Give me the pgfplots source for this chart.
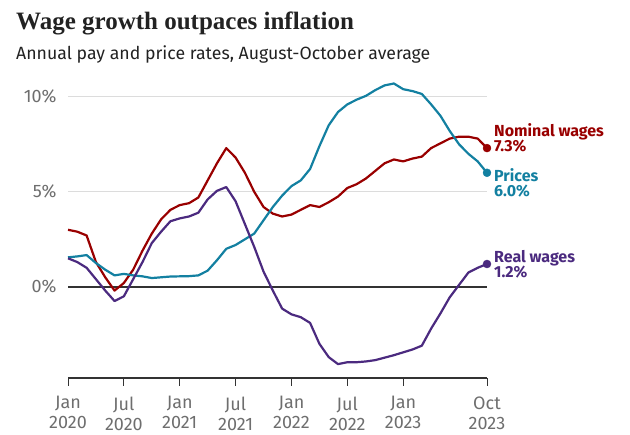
\documentclass[border=0pt]{standalone}
\usepackage{fontspec}
\setmainfont{Fira Sans}
\newfontfamily\titlefont{Liberation Serif}
\usepackage{pgfplots}
\pgfplotsset{compat=1.18}
\definecolor{nomred}{HTML}{990000}
\definecolor{pricet}{HTML}{1380A1}
\definecolor{realp}{HTML}{4B2A7F}
\definecolor{tickgray}{HTML}{6E6E6E}
\definecolor{gridgray}{HTML}{DCDCDC}
\definecolor{axisgray}{HTML}{333333}
\definecolor{titlegray}{HTML}{222222}
\pgfplotstableread{
i nom pri rea
0 3.0 1.55 1.5
1 2.9 1.6 1.3
2 2.7 1.67 1.0
3 1.3 1.25 0.4
4 0.5 0.9 -0.2
5 -0.2 0.6 -0.75
6 0.2 0.68 -0.5
7 0.9 0.6 0.4
8 1.9 0.55 1.3
9 2.8 0.46 2.3
10 3.55 0.5 2.9
11 4.05 0.54 3.45
12 4.3 0.55 3.6
13 4.4 0.56 3.7
14 4.7 0.6 3.9
15 5.6 0.85 4.6
16 6.5 1.4 5.05
17 7.3 2.0 5.25
18 6.8 2.2 4.5
19 6.0 2.5 3.3
20 5.0 2.8 2.1
21 4.2 3.5 0.8
22 3.85 4.2 -0.2
23 3.7 4.8 -1.15
24 3.8 5.3 -1.45
25 4.05 5.6 -1.6
26 4.3 6.2 -1.9
27 4.2 7.4 -3.0
28 4.45 8.5 -3.7
29 4.75 9.2 -4.07
30 5.2 9.6 -3.97
31 5.4 9.85 -3.97
32 5.7 10.05 -3.93
33 6.1 10.35 -3.86
34 6.5 10.6 -3.73
35 6.7 10.7 -3.6
36 6.6 10.4 -3.45
37 6.75 10.3 -3.3
38 6.85 10.15 -3.1
39 7.3 9.6 -2.2
40 7.55 9.0 -1.4
41 7.8 8.2 -0.55
42 7.9 7.5 0.1
43 7.9 7.0 0.75
44 7.8 6.6 1.0
45 7.3 6.0 1.2
}\datatable
\begin{document}
\begin{tikzpicture}[x=1pt,y=1pt]
\path[use as bounding box] (0,0) rectangle (630,435);
\node[anchor=base west, inner sep=0, font=\titlefont\bfseries\fontsize{25}{30}\selectfont, text=titlegray] at (16,405.7) {Wage growth outpaces inflation};
\node[anchor=base west, inner sep=0, font=\fontsize{17.7}{22}\selectfont, text=titlegray] at (16,375) {Annual pay and price rates, August-October average};
\begin{axis}[
  at={(68pt,57pt)}, anchor=south west,
  scale only axis, width=419pt, height=296.4pt,
  xmin=0, xmax=45, ymin=-4.8, ymax=10.8,
  clip=false,
  axis x line*=bottom, axis y line*=left,
  y axis line style={draw=none},
  x axis line style={axisgray, line width=1.3pt},
  xtick={0,6,12,18,24,30,36,45},
  xticklabels={Jan\\2020,Jul\\2020,Jan\\2021,Jul\\2021,Jan\\2022,Jul\\2022,Jan\\2023,Oct\\2023},
  xticklabel style={align=center, font=\fontsize{18}{20}\selectfont, text=tickgray, yshift=-7pt},
  xtick style={axisgray, line width=1pt},
  tick align=outside, major tick length=8pt,
  ytick={5,10}, yticklabels={5\%,10\%},
  ytick style={draw=none},
  yticklabel style={font=\fontsize{18}{20}\selectfont, text=tickgray, xshift=0pt},
  ymajorgrids, grid style={gridgray, line width=1pt},
  extra y ticks={0}, extra y tick labels={0\%},
  extra y tick style={grid style={axisgray, line width=1.5pt}, ytick style={draw=none}},
]
\addplot[nomred, line width=2.2pt, line join=round] table[x=i, y=nom] {\datatable};
\addplot[pricet, line width=2.2pt, line join=round] table[x=i, y=pri] {\datatable};
\addplot[realp, line width=2.2pt, line join=round] table[x=i, y=rea] {\datatable};
\addplot[only marks, mark=*, mark size=4pt, nomred] coordinates {(45,7.3)};
\addplot[only marks, mark=*, mark size=4pt, pricet] coordinates {(45,6.0)};
\addplot[only marks, mark=*, mark size=4pt, realp] coordinates {(45,1.2)};
\begin{scope}[every node/.style={anchor=base west, inner sep=0, font=\bfseries\fontsize{16}{18}\selectfont}]
\node[text=nomred, xshift=7pt, yshift=11.7pt] at (axis cs:45,7.3) {Nominal wages};
\node[text=nomred, xshift=7pt, yshift=-3.7pt] at (axis cs:45,7.3) {7.3\%};
\node[text=pricet, xshift=7pt, yshift=-8.5pt] at (axis cs:45,6.0) {Prices};
\node[text=pricet, xshift=7pt, yshift=-23.8pt] at (axis cs:45,6.0) {6.0\%};
\node[text=realp, xshift=7pt, yshift=1.3pt] at (axis cs:45,1.2) {Real wages};
\node[text=realp, xshift=7pt, yshift=-13.6pt] at (axis cs:45,1.2) {1.2\%};
\end{scope}
\end{axis}
\end{tikzpicture}
\end{document}
